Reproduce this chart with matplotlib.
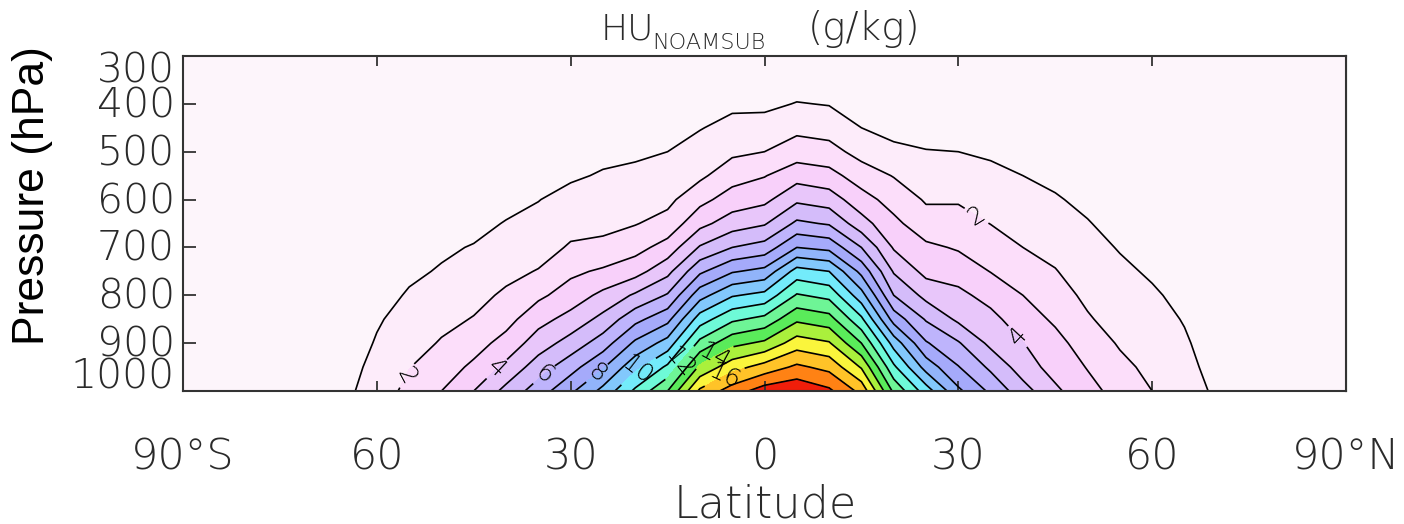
import numpy as np
import matplotlib
matplotlib.use("Agg")
import matplotlib.pyplot as plt
from matplotlib.colors import ListedColormap, BoundaryNorm
from matplotlib import font_manager
from matplotlib.font_manager import FontProperties

### zonal-mean specific humidity
lats = np.arange(-90, 91, 5)
plevs = [1000, 950, 900, 850, 800, 750, 700, 650, 600, 550, 500, 450, 400, 350, 300]

# one column (1000 -> 300 hPa) per latitude, g/kg
hu_cols = [
    [0.1, 0.1, 0.05, 0, 0, 0, 0, 0, 0, 0, 0, 0, 0, 0, 0],                       # -90
    [0.1, 0.1, 0.05, 0, 0, 0, 0, 0, 0, 0, 0, 0, 0, 0, 0],                       # -85
    [0.15, 0.1, 0.05, 0, 0, 0, 0, 0, 0, 0, 0, 0, 0, 0, 0],                      # -80
    [0.2, 0.15, 0.1, 0.05, 0, 0, 0, 0, 0, 0, 0, 0, 0, 0, 0],                    # -75
    [0.35, 0.25, 0.15, 0.1, 0.05, 0, 0, 0, 0, 0, 0, 0, 0, 0, 0],                # -70
    [0.75, 0.6, 0.45, 0.35, 0.25, 0.15, 0.1, 0.05, 0, 0, 0, 0, 0, 0, 0],        # -65
    [1.5, 1.3, 1.08, 0.9, 0.7, 0.5, 0.35, 0.2, 0.1, 0.05, 0, 0, 0, 0, 0],       # -60
    [2.26, 1.97, 1.62, 1.35, 1.08, 0.85, 0.6, 0.4, 0.25, 0.12, 0.05, 0, 0, 0, 0],
    [3.0, 2.5, 2.08, 1.75, 1.45, 1.07, 0.87, 0.62, 0.42, 0.25, 0.12, 0.05, 0, 0, 0],
    [4.0, 3.2, 2.6, 2.05, 1.72, 1.4, 1.05, 0.75, 0.5, 0.3, 0.15, 0.05, 0, 0, 0],
    [5.3, 4.25, 3.35, 2.65, 2.15, 1.75, 1.42, 1.05, 0.72, 0.45, 0.25, 0.1, 0, 0, 0],
    [6.5, 5.5, 4.5, 3.65, 2.8, 2.05, 1.62, 1.3, 0.97, 0.62, 0.35, 0.15, 0.05, 0, 0],
    [7.8, 6.6, 5.4, 4.35, 3.45, 2.8, 2.1, 1.7, 1.35, 0.85, 0.6, 0.3, 0.1, 0, 0],
    [9.3, 7.9, 6.5, 5.3, 4.25, 3.15, 2.2, 1.78, 1.45, 1.1, 0.72, 0.4, 0.15, 0, 0],
    [11.2, 9.7, 8.2, 6.7, 5.15, 3.6, 2.65, 1.95, 1.55, 1.2, 0.85, 0.5, 0.2, 0.05, 0],
    [13.0, 11.2, 9.4, 7.7, 6.1, 4.7, 3.4, 2.35, 1.75, 1.35, 1.0, 0.6, 0.25, 0.05, 0],
    [16.2, 14.2, 12.3, 10.5, 8.6, 6.8, 5.1, 3.7, 2.7, 1.8, 1.4, 0.95, 0.5, 0.12, 0],
    [17.5, 15.6, 13.7, 11.8, 9.9, 7.9, 6.0, 4.5, 3.45, 2.6, 1.8, 1.3, 0.8, 0.25, 0.05],
    [18.5, 16.4, 14.2, 12.3, 10.3, 8.3, 6.4, 4.9, 3.75, 2.95, 2.0, 1.45, 0.75, 0.3, 0.05],  # 0
    [18.8, 17.2, 15.5, 13.8, 12.1, 10.4, 8.0, 6.2, 4.8, 3.6, 2.5, 1.75, 1.05, 0.45, 0.08],
    [18.2, 16.7, 15.1, 13.4, 11.7, 10.0, 7.7, 5.9, 4.5, 3.35, 2.35, 1.6, 0.95, 0.4, 0.05],
    [16.7, 14.9, 13.0, 11.2, 9.4, 7.7, 6.0, 4.4, 3.4, 2.5, 1.65, 1.0, 0.5, 0.15, 0],
    [12.8, 11.2, 9.6, 7.6, 6.0, 4.9, 3.9, 3.25, 2.6, 1.95, 1.25, 0.65, 0.25, 0.05, 0],
    [10.5, 8.6, 7.1, 5.9, 4.7, 3.7, 3.2, 2.4, 1.9, 1.45, 1.05, 0.55, 0.2, 0, 0],
    [8.2, 7.05, 6.1, 4.8, 4.25, 3.55, 2.9, 2.4, 1.9, 1.45, 1.0, 0.55, 0.15, 0, 0],
    [6.8, 5.8, 4.75, 4.3, 3.65, 2.97, 2.5, 1.98, 1.6, 1.25, 0.85, 0.45, 0.12, 0, 0],
    [5.4, 4.5, 4.03, 3.45, 3.0, 2.45, 2.0, 1.62, 1.35, 1.0, 0.7, 0.35, 0.1, 0, 0],
    [4.2, 3.6, 3.3, 2.85, 2.4, 2.05, 1.7, 1.4, 1.08, 0.8, 0.5, 0.25, 0.05, 0, 0],
    [3.3, 2.95, 2.55, 2.1, 1.8, 1.5, 1.25, 1.05, 0.8, 0.55, 0.3, 0.1, 0, 0, 0],
    [2.66, 2.25, 1.9, 1.6, 1.35, 1.15, 0.95, 0.7, 0.5, 0.3, 0.15, 0.05, 0, 0, 0],
    [2.0, 1.75, 1.5, 1.3, 1.1, 0.9, 0.7, 0.5, 0.3, 0.15, 0.05, 0, 0, 0, 0],     # 60
    [1.41, 1.25, 1.1, 0.95, 0.8, 0.62, 0.45, 0.3, 0.15, 0.05, 0, 0, 0, 0, 0],
    [0.85, 0.7, 0.6, 0.5, 0.4, 0.3, 0.2, 0.1, 0.05, 0, 0, 0, 0, 0, 0],
    [0.5, 0.4, 0.3, 0.2, 0.1, 0.05, 0, 0, 0, 0, 0, 0, 0, 0, 0],
    [0.3, 0.2, 0.1, 0.05, 0, 0, 0, 0, 0, 0, 0, 0, 0, 0, 0],
    [0.2, 0.15, 0.1, 0, 0, 0, 0, 0, 0, 0, 0, 0, 0, 0, 0],
    [0.15, 0.1, 0.05, 0, 0, 0, 0, 0, 0, 0, 0, 0, 0, 0, 0],                      # 90
]

levels = np.arange(0, 20)
odd_levels = [1, 3, 5, 7, 9, 11, 13, 15, 17]
even_levels = [2, 4, 6, 8, 10, 12, 14, 16, 18]
band_colors = [
    '#fdf5fb', '#fdecfa', '#fcdefa', '#f8d0fa', '#e8c6fa', '#d4bcfa',
    '#beb4fc', '#a5aafa', '#91b4fa', '#82c8fc', '#73ebfa', '#6efad7',
    '#6ef596', '#5aeb5a', '#aaf03c', '#faf53c', '#ffc328', '#ff8214',
    '#f01e0a',
]
xtick_vals = [-90, -60, -30, 0, 30, 60, 90]
xtick_text = ['90°S', '60', '30', '0', '30', '60', '90°N']
ytick_vals = [300, 400, 500, 600, 700, 800, 900, 1000]

# contour labels: (latitude, pressure) spots near each labelled line
label_spots = [(-55.3, 968), (-42, 946), (-34.3, 963), (-26.5, 953), (-20, 950),
               (-13.5, 937), (-7.7, 931), (-6, 975), (32.9, 632), (39.1, 887)]

# thin font: DejaVu Sans ExtraLight if installed, else Roboto light
el = [f.fname for f in font_manager.fontManager.ttflist
      if f.name == 'DejaVu Sans' and 'ExtraLight' in f.fname]


def thin(size):
    if el:
        return FontProperties(fname=el[0], size=size)
    return FontProperties(family='Roboto', weight='light', size=size)


txtc = '#2a2a2a'
framec = '#333333'

hu = np.array(hu_cols).T
X, Y = np.meshgrid(lats, plevs)

fig = plt.figure(figsize=(14.04, 5.24), dpi=100)
ax = fig.add_axes([183 / 1404, 133 / 524, 1163 / 1404, 335 / 524])

cmap = ListedColormap(band_colors)
norm = BoundaryNorm(levels, cmap.N)
ax.set_facecolor(band_colors[0])
ax.contourf(X, Y, hu, levels=levels, cmap=cmap, norm=norm)
ax.contour(X, Y, hu, levels=odd_levels, colors='k', linewidths=1.2)
cs = ax.contour(X, Y, hu, levels=even_levels, colors='k', linewidths=1.2)
lbls = ax.clabel(cs, manual=label_spots, fmt='%d', fontsize=18,
                 inline=True, inline_spacing=6, colors='k')
for t in lbls:
    t.set_fontproperties(thin(18))

ax.set_xlim(-90, 90)
ax.set_ylim(1000, 300)
ax.set_xticks(xtick_vals, labels=xtick_text)
ax.set_yticks(ytick_vals, labels=[])
ax.tick_params(axis='x', direction='in', length=7, width=1.3, top=True, pad=33,
               colors=framec)
ax.tick_params(axis='y', direction='in', length=9, width=1.3, right=False,
               colors=framec)
for t in ax.get_xticklabels():
    t.set_fontproperties(thin(31))
    t.set_color(txtc)
for s in ax.spines.values():
    s.set_linewidth(1.5)
    s.set_color(framec)

# longer ticks on the right-hand frame
rax = ax.secondary_yaxis('right')
rax.set_yticks(ytick_vals, labels=[])
rax.tick_params(direction='in', length=17, width=1.3, colors=framec)
rax.spines['right'].set_linewidth(1.5)
rax.spines['right'].set_color(framec)

# y labels, IDL style (end ones pushed inside the frame)
yoff = {300: -15, 1000: 14}
for p in ytick_vals:
    ax.annotate(str(p), xy=(0, p), xycoords=('axes fraction', 'data'),
                xytext=(-8, yoff.get(p, -2)), textcoords='offset pixels',
                ha='right', va='center', fontproperties=thin(29.5), color=txtc)

fig.text(765 / 1404, 1 - 517 / 524, 'Latitude', ha='center', va='baseline',
         fontproperties=thin(32), color=txtc)
fig.text(12 / 1404, 1 - 196 / 524, 'Pressure (hPa)', rotation=90, ha='left',
         va='center', fontsize=32, family='Liberation Sans', color='black')

# title: HU with subscript
fig.text(601 / 1404, 1 - 39 / 524, 'HU', fontproperties=thin(26),
         color=txtc, va='baseline')
fig.text(652 / 1404, 1 - 49 / 524, 'NOAMSUB', fontproperties=thin(16),
         color=txtc, va='baseline')
fig.text(808 / 1404, 1 - 40 / 524, '(g/kg)', fontproperties=thin(28),
         color=txtc, va='baseline')

fig.savefig('out.png', dpi=100)
